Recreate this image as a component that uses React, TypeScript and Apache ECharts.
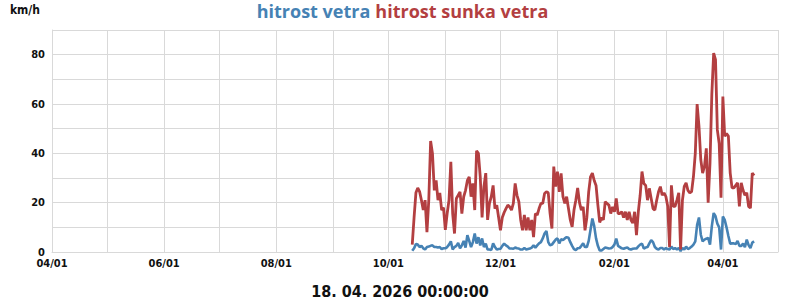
import React, { useEffect, useRef } from "react";
import * as echarts from "echarts";

const seriesNames = ["hitrost vetra", "hitrost sunka vetra"];
const seriesColors = ["#4682b4", "#b33f41"];
const yAxisName = "km/h";
const dateTitle = "18. 04. 2026 00:00:00";
// first data day (year, monthIndex, day) and axis range
const firstDay = [2025, 9, 14];
const axisStart = [2025, 3, 1];
const axisEnd = [2026, 4, 1];
// one value per day
const windSpeed = [
  0.5, 1.5, 3.2, 3.0, 2.0, 2.5, 1.5, 1.0, 2.0, 2.2,
  2.5, 2.7, 2.0, 2.0, 1.8, 2.0, 1.2, 1.5, 1.5, 2.0,
  3.0, 4.3, 1.0, 2.0, 2.5, 3.7, 1.5, 2.7, 4.5, 1.8,
  6.8, 4.5, 2.0, 4.0, 7.5, 3.4, 6.0, 2.7, 5.5, 2.0,
  3.4, 1.0, 1.0, 0.8, 3.5, 2.0, 1.0, 1.2, 1.3, 2.5,
  3.4, 2.7, 2.2, 1.4, 1.4, 1.3, 1.8, 1.5, 1.4, 1.0,
  1.0, 1.6, 1.0, 1.2, 1.4, 1.8, 2.7, 1.8, 2.7, 3.5,
  4.0, 5.5, 7.5, 8.5, 4.0, 2.7, 3.0, 4.0, 5.0, 5.5,
  3.5, 5.2, 4.8, 5.5, 6.0, 5.8, 4.0, 2.5, 1.2, 0.8,
  1.5, 1.6, 2.5, 3.5, 2.0, 2.0, 4.5, 9.0, 13.6, 10.5,
  5.5, 2.5, 0.6, 0.6, 1.2, 1.8, 1.6, 1.4, 1.5, 2.0,
  3.0, 5.4, 2.5, 2.0, 1.5, 1.3, 1.6, 1.8, 1.2, 1.0,
  1.3, 1.4, 1.4, 2.3, 3.0, 3.4, 1.4, 1.8, 2.0, 3.5,
  4.8, 4.0, 2.0, 1.3, 1.0, 1.6, 1.6, 1.0, 1.6, 1.2,
  1.0, 2.2, 1.2, 1.6, 1.0, 1.6, 0.4, 1.6, 1.0, 2.2,
  1.2, 1.6, 2.2, 3.0, 4.3, 11, 14, 7.0, 4.3, 5.0,
  5.4, 5.7, 3.0, 10.5, 15.8, 14.5, 11.5, 10, 1.0, 14.4,
  13, 10, 6.5, 3.4, 3.5, 3.5, 3.2, 4.5, 2.5, 2.5,
  3.4, 2.0, 5.0, 2.8, 1.6, 3.8, 4.3,
];
const windGust = [
  3, 14, 24, 26, 24.5, 21, 17, 21, 8, 21,
  45, 40, 25, 29, 21, 24, 17, 18, 9, 15.6,
  21, 36.6, 15.6, 7.5, 21.7, 23, 24.4, 15.6, 22.4, 25,
  29, 30.5, 22.4, 27.8, 17, 41, 40, 30.5, 14, 26.5,
  32, 13, 19.7, 22.4, 27, 17.6, 19, 14, 8.8, 14,
  16, 17.6, 19, 18.3, 17, 19.7, 27.8, 23, 20.4, 13,
  8.8, 15, 8.8, 14, 8.8, 13, 6, 15.6, 15, 17.6,
  19.7, 19.7, 23.7, 24.4, 24, 15.6, 9.5, 34.6, 26.5, 32.6,
  24.4, 31.9, 22.4, 19.7, 22.4, 17.6, 13, 10.2, 17, 21,
  26, 20, 17, 18.3, 8.8, 14, 24.4, 30.5, 32, 29,
  27, 19, 12, 14, 13, 20.4, 19.7, 19, 15.6, 18.3,
  16.3, 21.7, 15.6, 15.6, 16.3, 14, 16.3, 13, 16.3, 13,
  11.7, 16.3, 6.8, 16.3, 23, 32.6, 27.8, 27, 21, 25.8,
  21.7, 17.6, 17, 21, 24.4, 26.5, 23, 24, 22.5, 18.5,
  2, 27, 18.5, 18.5, 21, 24, 1, 21, 26.6, 28,
  25, 24, 24.5, 30.6, 40, 60, 51, 37.4, 32, 34.7,
  42, 20, 36, 64, 80.6, 78, 49.5, 44, 22, 63,
  47, 48, 47, 32, 26, 26, 27, 28, 18.5, 28,
  25, 23, 24, 18.5, 17.8, 32, 31,
];

const condensed = "'DejaVu Sans Condensed', 'Liberation Sans Narrow', sans-serif";
const gridColor = "#d9d9d9";

export default function App() {
  const ref = useRef<HTMLDivElement>(null);
  useEffect(() => {
    const chart = echarts.init(ref.current!, null, { renderer: "svg" });
    const toPairs = (vals: number[]) =>
      vals.map((v, i) => [new Date(firstDay[0], firstDay[1], firstDay[2] + i).getTime(), v]);
    const pad = (n: number) => (n < 10 ? "0" + n : "" + n);
    const day = 24 * 3600 * 1000;
    chart.setOption({
      animation: false,
      backgroundColor: "#ffffff",
      title: {
        text: dateTitle,
        left: "center",
        top: 283,
        padding: 0,
        textStyle: { fontFamily: condensed, fontWeight: "bold", fontSize: 16, color: "#111" },
      },
      legend: {
        data: seriesNames.map((n, i) => ({ name: n, textStyle: { color: seriesColors[i] } })),
        left: "center",
        top: 1,
        padding: 0,
        itemWidth: 0,
        itemHeight: 18,
        itemGap: 0,
        selectedMode: false,
        icon: "rect",
        textStyle: {
          fontFamily: "'Open Sans', 'Noto Sans', sans-serif",
          fontWeight: "bold",
          fontSize: 18,
          lineHeight: 20,
          verticalAlign: "middle",
        },
      },
      grid: { left: 52, right: 22, top: 30, bottom: 48, containLabel: false },
      xAxis: {
        type: "time",
        min: new Date(axisStart[0], axisStart[1], axisStart[2]).getTime(),
        max: new Date(axisEnd[0], axisEnd[1], axisEnd[2]).getTime(),
        splitNumber: 13,
        minInterval: 28 * day,
        maxInterval: 31 * day,
        axisLine: { show: true, lineStyle: { color: gridColor, width: 1 } },
        axisTick: { show: false },
        splitLine: { show: true, lineStyle: { color: gridColor, width: 1 } },
        axisLabel: {
          fontFamily: condensed,
          fontWeight: "bold",
          fontSize: 11,
          color: "#111",
          margin: 6,
          showMinLabel: true,
          showMaxLabel: true,
          hideOverlap: false,
          formatter: (value: number) => {
            const d = new Date(value);
            const m = d.getMonth() + 1;
            return m % 2 === 0 && d.getDate() === 1 ? pad(m) + "/" + pad(d.getDate()) : "";
          },
        },
      },
      yAxis: {
        type: "value",
        min: 0,
        max: 90,
        interval: 10,
        name: yAxisName,
        nameLocation: "end",
        nameGap: 14,
        nameTextStyle: {
          fontFamily: condensed,
          fontWeight: "bold",
          fontSize: 12,
          color: "#111",
          align: "right",
          padding: [0, 12, 0, 0],
        },
        axisLine: { show: true, lineStyle: { color: gridColor, width: 1 } },
        axisTick: { show: false },
        splitLine: { show: true, lineStyle: { color: gridColor, width: 1 } },
        axisLabel: {
          fontFamily: condensed,
          fontWeight: "bold",
          fontSize: 11,
          color: "#111",
          margin: 7,
          formatter: (v: number) => (v % 20 === 0 ? String(v) : ""),
        },
      },
      series: [
        {
          name: seriesNames[0],
          type: "line",
          data: toPairs(windSpeed),
          showSymbol: false,
          color: seriesColors[0],
          lineStyle: { width: 2.6, color: seriesColors[0] },
        },
        {
          name: seriesNames[1],
          type: "line",
          data: toPairs(windGust),
          showSymbol: false,
          color: seriesColors[1],
          lineStyle: { width: 2.8, color: seriesColors[1] },
        },
      ],
    });
    return () => chart.dispose();
  }, []);
  return <div ref={ref} style={{ position: "fixed", left: 0, top: 0, width: 800, height: 300 }} />;
}
